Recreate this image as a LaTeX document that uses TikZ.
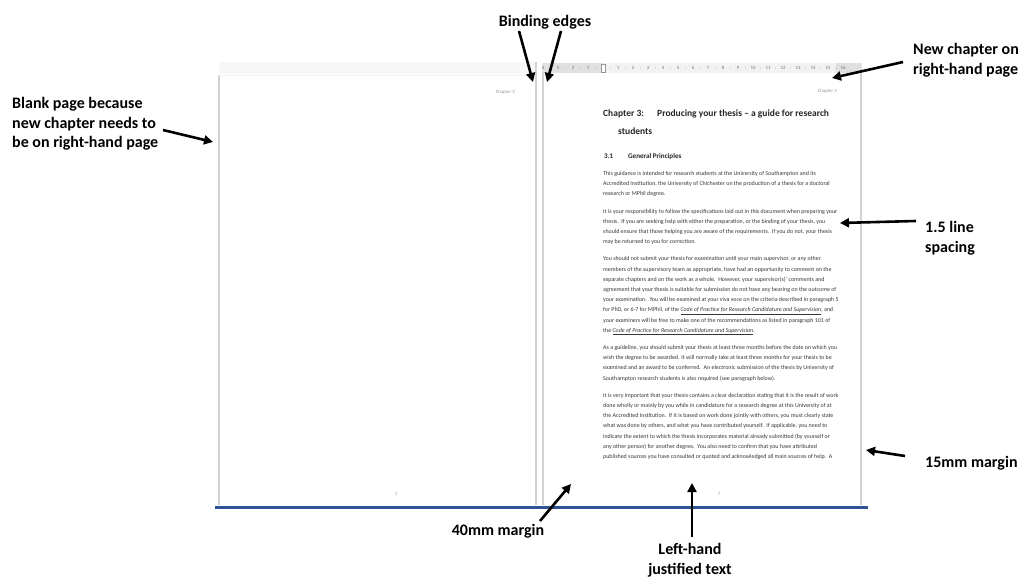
\documentclass[tikz,border=0pt]{standalone}
\usepackage{fontspec}
\setmainfont{Carlito}
\usetikzlibrary{arrows.meta}
\definecolor{rulerbg}{RGB}{242,242,242}
\definecolor{rulermg}{RGB}{224,224,224}
\definecolor{edgegray}{RGB}{210,210,210}
\definecolor{wordblue}{RGB}{46,84,150}
\definecolor{bodytext}{RGB}{55,55,55}
\definecolor{hdrgray}{RGB}{150,150,150}
\begin{document}
\begin{tikzpicture}[x=1pt,y=-1pt,
  body/.style={anchor=base west, inner sep=0pt, font=\fontsize{5.95}{7}\selectfont, text=bodytext},
  head/.style={anchor=base west, inner sep=0pt, font=\fontsize{9.5}{11}\selectfont\bfseries, text=black!85},
  subhead/.style={anchor=base west, inner sep=0pt, font=\fontsize{7.1}{8}\selectfont\bfseries, text=black!85},
  small/.style={inner sep=0pt, font=\fontsize{4.8}{5}\selectfont, text=hdrgray},
  lbl/.style={inner sep=0pt, font=\fontsize{16}{19.5}\selectfont\bfseries, text=black},
  arr/.style={line width=2.6pt, black, -{Triangle[length=9pt,width=9pt]}},
  pageedge/.style={draw=edgegray, line width=1.4pt},
]
\useasboundingbox (0,0) rectangle (1022,577);
\fill[white] (0,0) rectangle (1022,577);

% left page (faint inactive ruler strip and edges)
\fill[black!3] (219,62) rectangle (536,74);
\draw[pageedge] (219,75) -- (219,505);
\draw[pageedge] (536,62) -- (536,505);
\draw[draw=black!6, line width=0.6pt] (219,75) -- (536,75);

% right page ruler
\fill[rulerbg] (542,63) rectangle (862,73);
\fill[rulermg] (542,63) rectangle (603,73);
\fill[rulermg] (835.5,63) rectangle (862,73);
\foreach \k in {-4,...,16}{
  \ifnum\k=0
    \draw[hdrgray, line width=0.5pt, fill=white] (601,64) rectangle (605,72);
  \else
    \pgfmathtruncatemacro{\n}{abs(\k)}
    \node[small, text=black!55, name=rl\n x\k] at ({603+15*\k},68) {\n};
  \fi
  \ifnum\k<16
    \fill[black!45] ({603+15*\k+7.5},68) circle (0.45pt);
  \fi
}
\draw[pageedge] (543,73) -- (543,505);
\draw[pageedge] (861,73) -- (861,505);

% headers and page numbers
\node[small, anchor=base east] (hdr2) at (515,94) {Chapter 2};
\node[small, anchor=base east] (hdr3) at (837,93) {Chapter 3};
\node[small, anchor=base] (pn1) at (396,495) {1};
\node[small, anchor=base] (pn7) at (719,495) {7};

% headings
\node[head] (h1a) at (603,116.5) {Chapter 3:};
\node[head] (h1b) at (657,116.5) {Producing your thesis – a guide for research};
\node[head] (h1c) at (618,134.5) {students};
\node[subhead] (h2a) at (604,158.5) {3.1};
\node[subhead] (h2b) at (628,158.5) {General Principles};

% body text
\node[body] (t1) at (603,175.5) {This guidance is intended for research students at the University of Southampton and its};
\node[body] (t2) at (603,185.7) {Accredited Institution, the University of Chichester on the production of a thesis for a doctoral};
\node[body] (t3) at (603,195.9) {research or MPhil degree.};
\node[body] (t4) at (603,213.1) {It is your responsibility to follow the specifications laid out in this document when preparing your};
\node[body] (t5) at (603,223.3) {thesis.\ \ If you are seeking help with either the preparation, or the binding of your thesis, you};
\node[body] (t6) at (603,233.5) {should ensure that those helping you are aware of the requirements.\ \ If you do not, your thesis};
\node[body] (t7) at (603,243.7) {may be returned to you for correction.};
\node[body] (t8) at (603,260.9) {You should not submit your thesis for examination until your main supervisor, or any other};
\node[body] (t9) at (603,271.1) {members of the supervisory team as appropriate, have had an opportunity to comment on the};
\node[body] (t10) at (603,281.3) {separate chapters and on the work as a whole.\ \ However, your supervisor(s)’ comments and};
\node[body] (t11) at (603,291.5) {agreement that your thesis is suitable for submission do not have any bearing on the outcome of};
\node[body] (t12) at (603,301.7) {your examination.\ \ You will be examined at your viva voce on the criteria described in paragraph 5};
\node[body] (t13) at (603,311.9) {for PhD, or 6-7 for MPhil, of the \underline{\textit{Code of Practice for Research Candidature and Supervision}}, and};
\node[body] (t14) at (603,322.1) {your examiners will be free to make one of the recommendations as listed in paragraph 101 of};
\node[body] (t15) at (603,332.3) {the \underline{\textit{Code of Practice for Research Candidature and Supervision}}.};
\node[body] (t16) at (603,349.5) {As a guideline, you should submit your thesis at least three months before the date on which you};
\node[body] (t17) at (603,359.7) {wish the degree to be awarded. It will normally take at least three months for your thesis to be};
\node[body] (t18) at (603,369.9) {examined and an award to be conferred.\ \ An electronic submission of the thesis by University of};
\node[body] (t19) at (603,380.1) {Southampton research students is also required (see paragraph below).};
\node[body] (t20) at (603,397.3) {It is very important that your thesis contains a clear declaration stating that it is the result of work};
\node[body] (t21) at (603,407.5) {done wholly or mainly by you while in candidature for a research degree at this University of at};
\node[body] (t22) at (603,417.7) {the Accredited Institution.\ \ If it is based on work done jointly with others, you must clearly state};
\node[body] (t23) at (603,427.9) {what was done by others, and what you have contributed yourself.\ \ If applicable, you need to};
\node[body] (t24) at (603,438.1) {indicate the extent to which the thesis incorporates material already submitted (by yourself or};
\node[body] (t25) at (603,448.3) {any other person) for another degree.\ \ You also need to confirm that you have attributed};
\node[body] (t26) at (603,458.5) {published sources you have consulted or quoted and acknowledged all main sources of help.\ \ A};

% bottom blue line
\draw[wordblue, line width=3pt] (215,507) -- (868,507);

% labels
\node[lbl] (bind) at (545,22) {Binding edges};
\node[lbl, align=left, anchor=west] (newch) at (913,60) {New chapter on\\right-hand page};
\node[lbl, align=left, anchor=west] (blank) at (12,124) {Blank page because\\new chapter needs to\\be on right-hand page};
\node[lbl, align=left, anchor=west] (spac) at (925,238) {1.5 line\\spacing};
\node[lbl, anchor=west] (m15) at (925,463) {15mm margin};
\node[lbl] (m40) at (498,531) {40mm margin};
\node[lbl, align=center] (lhj) at (690,560) {Left-hand\\justified text};

% arrow ends
\coordinate (bindA) at (519,31);
\coordinate (bindAt) at (533,82);
\coordinate (bindB) at (561,31);
\coordinate (bindBt) at (547,82);
\coordinate (newchS) at (903,62);
\coordinate (newchT) at (832,78);
\coordinate (blankS) at (163,130);
\coordinate (blankT) at (213,142);
\coordinate (spacS) at (916,221);
\coordinate (spacT) at (840,223);
\coordinate (m15S) at (905,456);
\coordinate (m15T) at (866,450);
\coordinate (m40S) at (540,521);
\coordinate (m40T) at (571,484);
\coordinate (lhjS) at (692,537);
\coordinate (lhjT) at (692,483);

\draw[arr] (bindA) -- (bindAt);
\draw[arr] (bindB) -- (bindBt);
\draw[arr] (newchS) -- (newchT);
\draw[arr] (blankS) -- (blankT);
\draw[arr] (spacS) -- (spacT);
\draw[arr] (m15S) -- (m15T);
\draw[arr] (m40S) -- (m40T);
\draw[arr] (lhjS) -- (lhjT);
\end{tikzpicture}
\end{document}
